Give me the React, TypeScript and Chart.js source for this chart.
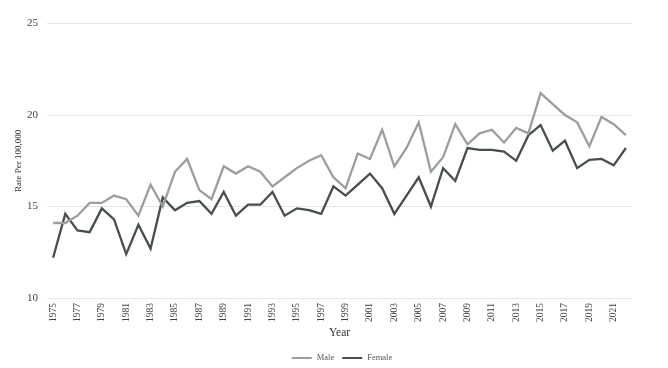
import React, { useEffect, useRef } from "react";
import { Chart, registerables } from "chart.js";

Chart.register(...registerables);

const years: string[] = [];
for (let y = 1975; y <= 2022; y++) years.push(String(y));

const male = [
  14.1, 14.1, 14.5, 15.2, 15.2, 15.6, 15.4, 14.5, 16.2, 15.0,
  16.9, 17.6, 15.9, 15.4, 17.2, 16.8, 17.2, 16.9, 16.1, 16.6,
  17.1, 17.5, 17.8, 16.6, 16.0, 17.9, 17.6, 19.2, 17.2, 18.2,
  19.6, 16.9, 17.7, 19.5, 18.4, 19.0, 19.2, 18.5, 19.3, 19.0,
  21.2, 20.6, 20.0, 19.6, 18.3, 19.9, 19.5, 18.9,
];

const female = [
  12.2, 14.6, 13.7, 13.6, 14.9, 14.3, 12.4, 14.0, 12.7, 15.5,
  14.8, 15.2, 15.3, 14.6, 15.8, 14.5, 15.1, 15.1, 15.8, 14.5,
  14.9, 14.8, 14.6, 16.1, 15.6, 16.2, 16.8, 16.0, 14.6, 15.6,
  16.6, 15.0, 17.1, 16.4, 18.2, 18.1, 18.1, 18.0, 17.5, 18.9,
  19.45, 18.05, 18.6, 17.1, 17.55, 17.6, 17.25, 18.2,
];

const yTicks = [10, 15, 20, 25];

const FONT = "'Liberation Serif', 'DejaVu Serif', serif";

const legendPlugin = {
  id: "bottomLegend",
  afterDraw(chart: any) {
    const ctx = chart.ctx as CanvasRenderingContext2D;
    ctx.save();
    ctx.font = `8.5px ${FONT}`;
    const items = chart.data.datasets.map((ds: any) => ({
      label: ds.label as string,
      color: ds.borderColor as string,
      w: ctx.measureText(ds.label).width,
    }));
    const lineW = 20;
    const gap1 = 5;
    const gap2 = 8;
    const total =
      items.reduce((s: number, it: any) => s + lineW + gap1 + it.w, 0) +
      gap2 * (items.length - 1);
    const cx = chart.width / 2 + 8;
    const y = chart.height - 10;
    let x = cx - total / 2;
    ctx.textBaseline = "middle";
    ctx.textAlign = "left";
    for (const it of items) {
      ctx.strokeStyle = it.color;
      ctx.lineWidth = 2;
      ctx.beginPath();
      ctx.moveTo(x, y);
      ctx.lineTo(x + lineW, y);
      ctx.stroke();
      x += lineW + gap1;
      ctx.fillStyle = "#555";
      ctx.fillText(it.label, x, y);
      x += it.w + gap2;
    }
    ctx.restore();
  },
};

export default function App() {
  const ref = useRef<HTMLCanvasElement | null>(null);
  useEffect(() => {
    if (!ref.current) return;
    const chart = new Chart(ref.current, {
      type: "line",
      data: {
        labels: years,
        datasets: [
          {
            label: "Male",
            data: male,
            borderColor: "#9c9e9a",
            backgroundColor: "#9c9e9a",
            borderWidth: 2.3,
            pointRadius: 0,
            tension: 0,
          },
          {
            label: "Female",
            data: female,
            borderColor: "#465049",
            backgroundColor: "#465049",
            borderWidth: 2.3,
            pointRadius: 0,
            tension: 0,
          },
        ],
      },
      plugins: [legendPlugin],
      options: {
        animation: false,
        responsive: true,
        maintainAspectRatio: false,
        layout: { padding: { left: 0, right: 28, top: 15, bottom: 26 } },
        plugins: {
          legend: { display: false },
          tooltip: { enabled: false },
        },
        scales: {
          x: {
            offset: true,
            grid: { display: false, drawTicks: false },
            border: { display: false },
            afterFit: (axis: any) => {
              axis.height = 44;
            },
            title: {
              display: true,
              text: "Year",
              color: "#333",
              font: { family: FONT, size: 11.5 },
              padding: { top: 0, bottom: 2 },
            },
            ticks: {
              autoSkip: false,
              minRotation: 90,
              maxRotation: 90,
              padding: 5,
              color: "#444",
              font: { family: FONT, size: 9.5 },
              callback: (_v: any, i: number) => (i % 2 === 0 ? years[i] : ""),
            },
          },
          y: {
            min: 10,
            max: 25,
            afterBuildTicks: (axis: any) => {
              axis.ticks = yTicks.map((v) => ({ value: v }));
            },
            afterFit: (axis: any) => {
              axis.width = 39;
            },
            grid: { color: "#e6e6e6", drawTicks: false, lineWidth: 1 },
            border: { display: false },
            title: {
              display: true,
              text: "Rate Per 100,000",
              color: "#333",
              font: { family: FONT, size: 9 },
              padding: { top: 5, bottom: 0 },
            },
            ticks: {
              color: "#444",
              font: { family: FONT, size: 11 },
              padding: 9,
            },
          },
        },
      },
    });
    return () => chart.destroy();
  }, []);
  return (
    <div style={{ width: 652, height: 360, marginBottom: -8 }}>
      <canvas ref={ref} />
    </div>
  );
}
